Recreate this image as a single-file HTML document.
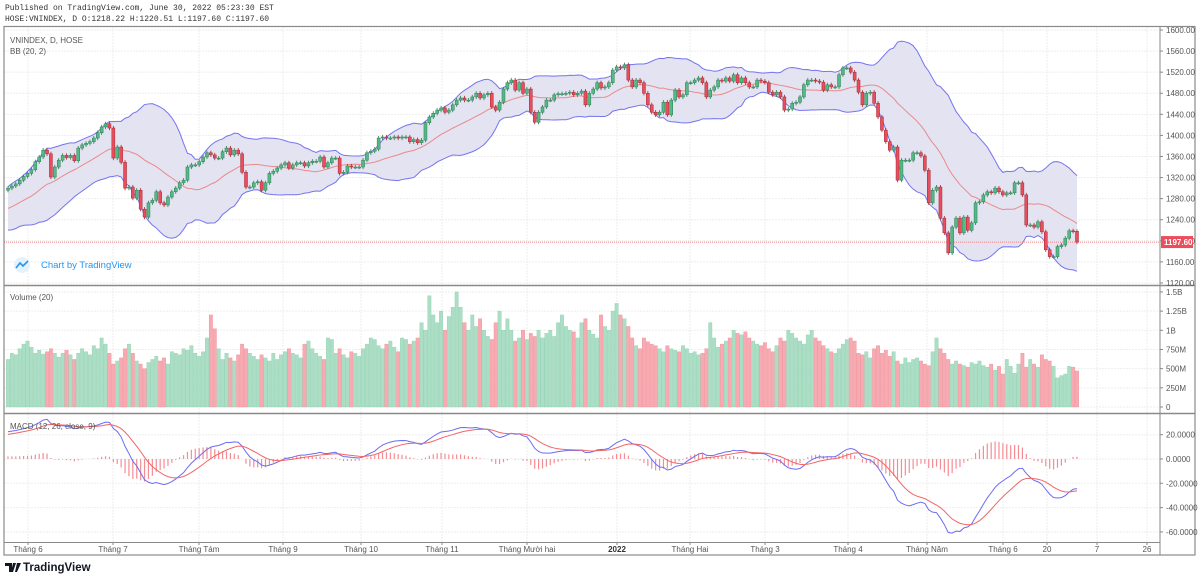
<!DOCTYPE html>
<html><head><meta charset="utf-8">
<style>
body{margin:0;background:#fff;width:1200px;height:579px;overflow:hidden;font-family:"Liberation Sans",sans-serif;}
#hdr{position:absolute;left:5px;top:3px;font-family:"Liberation Mono",monospace;font-size:8px;color:#333;line-height:11px;white-space:pre;}
svg{position:absolute;left:0;top:0;}
text{font-family:"Liberation Sans",sans-serif;}
</style></head><body>
<div id="hdr">Published on TradingView.com, June 30, 2022 05:23:30 EST
HOSE:VNINDEX, D O:1218.22 H:1220.51 L:1197.60 C:1197.60</div>
<svg id="c" width="1200" height="579"></svg>
<script>
const prehistory=[1180,1190,1200,1210,1215,1230,1235,1240,1232,1228,1240,1250,1255,1245,1240,1252,1260,1265,1270,1262,1265,1275,1280,1285,1290,1295];
const closes=[1300,1304,1308,1315,1322,1328,1335,1350,1359,1372,1365,1321,1340,1353,1362,1358,1362,1352,1376,1382,1385,1388,1395,1405,1416,1422,1414,1357,1378,1349,1300,1302,1281,1296,1260,1245,1272,1277,1293,1272,1268,1283,1293,1300,1310,1315,1340,1344,1344,1350,1359,1367,1363,1357,1357,1369,1376,1363,1372,1365,1330,1302,1302,1310,1312,1296,
1310,1328,1332,1338,1344,1348,1338,1344,1348,1348,1342,1348,1351,1351,1359,1340,1348,1357,1357,1328,1330,1342,1340,1340,1340,1353,1367,1370,1374,1395,1397,1395,1395,1397,1395,1397,1397,1388,1392,1386,1391,1424,1435,1442,1448,1452,1444,1448,1458,1467,1471,1467,1467,1473,1480,1471,1477,1480,1454,1448,1463,1488,1500,1505,1486,1500,1480,1488,1444,1425,1444,1454,
1467,1467,1477,1479,1479,1480,1482,1477,1480,1484,1458,1480,1488,1500,1490,1492,1500,1524,1530,1528,1534,1505,1492,1505,1500,1480,1458,1444,1439,1444,1463,1439,1467,1486,1473,1477,1500,1500,1505,1509,1500,1473,1486,1492,1505,1503,1509,1503,1515,1500,1509,1500,1492,1492,1505,1503,1500,1482,1477,1482,1473,1448,1450,1461,1463,1473,1496,1505,1505,1503,1501,1486,1496,1492,1492,
1515,1528,1528,1520,1505,1482,1458,1480,1482,1461,1435,1410,1388,1372,1378,1315,1353,1353,1353,1367,1367,1361,1334,1272,1296,1302,1243,1215,1177,1226,1243,1215,1245,1220,1234,1272,1274,1287,1293,1291,1300,1293,1287,1291,1291,1310,1310,1287,1230,1230,1226,1236,1217,1183,1170,1170,1189,1192,1205,1219,1218,1197.6];
const volumesM=[620,700,680,760,820,860,780,700,740,690,720,760,700,650,700,740,680,620,700,760,720,680,800,760,900,820,700,560,600,640,760,820,700,600,560,500,580,620,660,600,640,560,720,700,680,760,740,800,700,660,720,900,1200,1020,760,620,700,640,600,680,820,760,700,660,620,680,
640,600,700,620,680,720,760,700,680,640,820,860,760,700,660,620,900,880,700,760,680,640,720,700,660,760,820,900,880,800,760,820,860,780,720,900,880,820,860,900,1100,1000,1450,1200,1100,1250,1000,1180,1300,1500,1300,1100,1000,1200,1050,1150,1000,920,880,1100,1250,1000,1150,1000,860,900,1000,880,960,920,1000,900,
960,1000,920,1100,1200,1050,1000,980,900,1100,1150,1000,950,900,1200,1050,1000,1250,1350,1200,1150,1050,900,800,760,900,850,820,800,760,720,800,760,740,720,800,760,700,720,680,700,760,1100,900,780,820,860,900,1000,960,940,980,900,860,820,800,840,760,720,800,900,860,1000,960,900,860,820,940,1000,900,860,800,760,720,700,
760,820,880,900,860,700,680,720,640,760,800,700,740,660,720,600,560,640,580,620,640,600,560,540,720,900,760,700,620,560,600,560,540,520,580,560,600,540,520,560,480,530,430,620,530,440,560,700,520,620,560,520,680,620,600,530,380,410,430,530,520,470];
const priceTicks=[1600,1560,1520,1480,1440,1400,1360,1320,1280,1240,1200,1160,1120];
const volTicks=[[1500,'1.5B'],[1250,'1.25B'],[1000,'1B'],[750,'750M'],[500,'500M'],[250,'250M'],[0,'0']];
const macdTicks=[20,0,-20,-40,-60];
const timeLabels=[['Tháng 6',28],['Tháng 7',113],['Tháng Tám',199],['Tháng 9',283],['Tháng 10',361],['Tháng 11',442],['Tháng Mười hai',527],['2022',617],['Tháng Hai',690],['Tháng 3',765],['Tháng 4',848],['Tháng Năm',927],['Tháng 6',1003],['20',1047],['7',1097],['26',1147]];

const svg=document.getElementById('c');const NS='http://www.w3.org/2000/svg';
function el(t,a,p){const e=document.createElementNS(NS,t);for(const k in a)e.setAttribute(k,a[k]);(p||svg).appendChild(e);return e;}
const X0=8,X1=1077,n=closes.length,step=(X1-X0)/(n-1);
const xs=i=>X0+i*step;
const yP=p=>30+(1600-p)*0.527;
const yV=m=>407-m*0.0767;
const yM=v=>459-v*1.215;
const L=4,R=1195,AX=1160;

// grids
const g=el('g',{});

timeLabels.forEach(t=>{el('line',{x1:t[1],x2:t[1],y1:27,y2:542,stroke:'#eee','stroke-dasharray':'2,1'},g);});
priceTicks.forEach(p=>el('line',{x1:L,x2:AX,y1:yP(p),y2:yP(p),stroke:'#eee','stroke-dasharray':'2,1'},g));
volTicks.forEach(v=>el('line',{x1:L,x2:AX,y1:yV(v[0]),y2:yV(v[0]),stroke:'#eee','stroke-dasharray':'2,1'},g));
macdTicks.forEach(v=>el('line',{x1:L,x2:AX,y1:yM(v),y2:yM(v),stroke:'#eee','stroke-dasharray':'2,1'},g));

// BB
const all=prehistory.concat(closes);const off=prehistory.length;
const mid=[],up=[],lo=[];
for(let i=0;i<n;i++){const j=i+off;const w=all.slice(j-19,j+1);const m=w.reduce((a,b)=>a+b,0)/w.length;const sd=Math.sqrt(w.reduce((a,b)=>a+(b-m)*(b-m),0)/w.length);mid.push(m);up.push(m+2*sd);lo.push(m-2*sd);}
let fill='M'+up.map((v,i)=>xs(i)+','+yP(v)).join('L')+'L'+lo.map((v,i)=>xs(i)+','+yP(v)).reverse().join('L')+'Z';
const bbf=el('path',{d:fill,fill:'#e3e3f1'});

const pl=(arr,f,c,name,w)=>{const e=el('path',{d:'M'+arr.map((v,i)=>xs(i)+','+f(v)).join('L'),fill:'none',stroke:c,'stroke-width':w||1});
return e;};
pl(up,yP,'#7474f0','bb-upper');pl(lo,yP,'#7474f0','bb-lower');pl(mid,yP,'#ea8a8a','bb-basis');

// last price line
const lp=el('line',{x1:L,x2:AX,y1:yP(1197.6),y2:yP(1197.6),stroke:'#f08080','stroke-dasharray':'1,1'});


// candles
const cg=el('g',{});
for(let i=0;i<n;i++){const c=closes[i];const o=i?closes[i-1]:1296;const up_=c>=o;
 const col=up_?'#53b987':'#eb4d5c',bd=up_?'#2e7d52':'#9e2a35';
 const hi=Math.max(o,c)+4,lw=Math.min(o,c)-4;
 const x=xs(i);
 const wk=el('line',{x1:x,x2:x,y1:yP(hi),y2:yP(lw),stroke:bd,'stroke-width':0.8},cg);
 
 const b=el('rect',{x:x-1.5,y:yP(Math.max(o,c)),width:3,height:Math.max(1,Math.abs(yP(o)-yP(c))),fill:col,stroke:bd,'stroke-width':0.5},cg);
 }

// volume
const vg=el('g',{});
for(let i=0;i<n;i++){const o=i?closes[i-1]:1296;const up_=closes[i]>=o;
 const r=el('rect',{x:xs(i)-1.7,y:yV(volumesM[i]),width:3.4,height:407-yV(volumesM[i]),fill:up_?'#abdec5':'#f7aab1',stroke:up_?'#8fd0b0':'#f08f99','stroke-width':0.4},vg);
 }

// MACD
function ema(a,p){const k=2/(p+1);const r=[a[0]];for(let i=1;i<a.length;i++)r.push(a[i]*k+r[i-1]*(1-k));return r;}
const e12=ema(all,12),e26=ema(all,26);const macdAll=e12.map((v,i)=>v-e26[i]);const sigAll=ema(macdAll,9);
const macd=macdAll.slice(off),sig=sigAll.slice(off);
const hg=el('g',{});
for(let i=0;i<n;i++){const h=macd[i]-sig[i];const l=el('line',{x1:xs(i),x2:xs(i),y1:yM(0),y2:yM(h),stroke:'#f48c94','stroke-width':1.2},hg);
 }
pl(macd,yM,'#6b6bf5','macd-line');pl(sig,yM,'#f26565','signal-line');

// frame
const fr=el('g',{});
el('rect',{x:L,y:26.5,width:R-L,height:528.5,fill:'none',stroke:'#8a8a8a','stroke-width':1.2},fr);
el('line',{x1:AX,x2:AX,y1:26,y2:555,stroke:'#8a8a8a'},fr);
el('line',{x1:L,x2:R,y1:285.5,y2:285.5,stroke:'#8a8a8a','stroke-width':1.4},fr);
el('line',{x1:L,x2:R,y1:413.5,y2:413.5,stroke:'#8a8a8a','stroke-width':1.4},fr);
el('line',{x1:L,x2:AX,y1:542.5,y2:542.5,stroke:'#8a8a8a'},fr);

function txt(s,x,y,a,name){const t=el('text',Object.assign({x:x,y:y,'font-size':8,fill:'#555'},a||{}));t.textContent=s;return t;}
priceTicks.forEach(p=>{el('line',{x1:AX,x2:AX+3,y1:yP(p),y2:yP(p),stroke:'#888'});txt(p.toFixed(2),AX+6,yP(p)+3,null,'price-tick-label');});
volTicks.forEach(v=>{el('line',{x1:AX,x2:AX+3,y1:yV(v[0]),y2:yV(v[0]),stroke:'#888'});txt(v[1],AX+6,yV(v[0])+3,null,'volume-tick-label');});
macdTicks.forEach(v=>{el('line',{x1:AX,x2:AX+3,y1:yM(v),y2:yM(v),stroke:'#888'});txt(v.toFixed(4),AX+6,yM(v)+3,null,'macd-tick-label');});
timeLabels.forEach(t=>{el('line',{x1:t[1],x2:t[1],y1:542,y2:545,stroke:'#888'});txt(t[0],t[1],552,t[0]==='2022'?{'text-anchor':'middle','font-weight':'bold',fill:'#333'}:{'text-anchor':'middle'},'time-axis-label');});

// last price tag
const tag=el('rect',{x:AX+1,y:yP(1197.6)-6,width:32,height:12,fill:'#eb4d5c'});

txt('1197.60',AX+4,yP(1197.6)+3,{fill:'#fff','font-weight':'bold'},'last-price-value');

// pane labels
txt('VNINDEX, D, HOSE',10,43,{'font-family':'Liberation Mono, monospace'},'symbol-title');
txt('BB (20, 2)',10,54,{'font-family':'Liberation Mono, monospace'},'bb-legend');
txt('Volume (20)',10,300,{'font-family':'Liberation Mono, monospace'},'volume-legend');
txt('MACD (12, 26, close, 9)',10,429,{'font-family':'Liberation Mono, monospace'},'macd-legend');

// watermark
const wm=el('g',{});
el('circle',{cx:22,cy:265,r:8,fill:'#e3f2fd'},wm);
el('path',{d:'M16,268 L20,263 L23,266 L28,261',fill:'none',stroke:'#2196f3','stroke-width':1.6},wm);
const wt=el('text',{x:41,y:268,'font-size':9.5,fill:'#2196f3'},wm);wt.textContent='Chart by TradingView';

// logo
const lg=el('g',{});
el('path',{d:'M5,563 h7 v9 h-3 v-6 h-4z M13,563 h3 l-3,9 h-2z M17,563 h4 l-4,9 h-2z',fill:'#131722'},lg);
const lt=el('text',{x:23,y:571,'font-size':11.5,'font-weight':'bold',fill:'#131722'},lg);lt.textContent='TradingView';
</script>
</body></html>
